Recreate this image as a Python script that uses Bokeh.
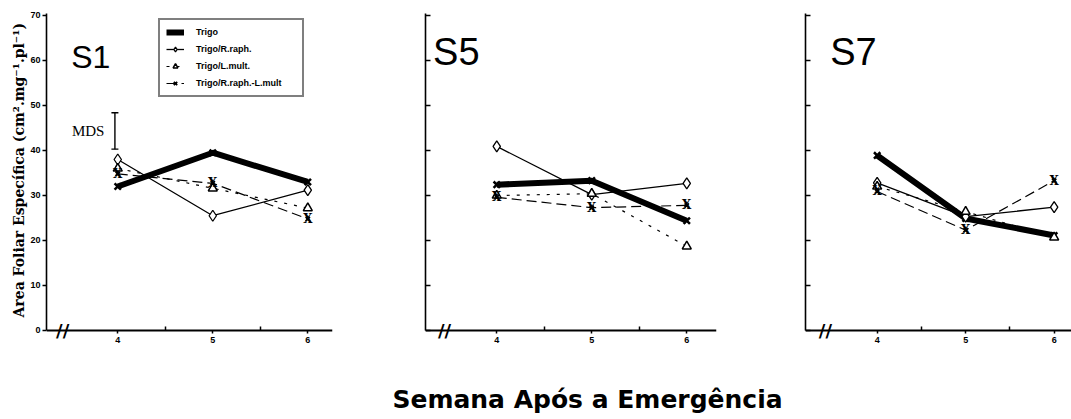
from bokeh.plotting import figure
from bokeh.layouts import column, row
from bokeh.models import (ColumnDataSource, FixedTicker, Legend, LegendItem,
                          Label, Whisker, TeeHead, Title)
from bokeh.core.properties import value
from bokeh.embed import file_html
from bokeh.resources import INLINE

# ---------------- data ----------------
weeks = [4, 5, 6]
x_ticks = [4, 5, 6]
x_minor = [4.5, 5.5]
y_ticks = [0, 10, 20, 30, 40, 50, 60, 70]

series_labels = ["Trigo", "Trigo/R.raph.", "Trigo/L.mult.", "Trigo/R.raph.-L.mult"]
panel_names = ["S1", "S5", "S7"]

trigo_s1 = [32.0, 39.5, 33.0]
rraph_s1 = [38.0, 25.5, 31.2]
lmult_s1 = [36.0, 31.6, 27.2]
rl_s1 = [34.8, 32.7, 24.8]

trigo_s5 = [32.4, 33.3, 24.4]
rraph_s5 = [40.9, 30.2, 32.7]
lmult_s5 = [30.0, 30.4, 18.7]
rl_s5 = [29.6, 27.3, 27.8]

trigo_s7 = [38.9, 24.9, 21.1]
rraph_s7 = [32.8, 25.3, 27.4]
lmult_s7 = [32.0, 26.4, 20.7]
rl_s7 = [30.9, 22.3, 33.3]

mds_x = [3.97]
mds_low = [40.3]
mds_high = [48.4]

x_title = "Semana Após a Emergência"
y_title = "Area Foliar Específica (cm².mg⁻¹.pl⁻¹)"

SANS = "Liberation Sans"
Y_TOP = 70.44


def make_panel(name, tr, rr, lm, rl, width, xr, left, right, first,
               break_x, lab_x, lab_y, lab_size):
    p = figure(width=width, height=370, x_range=xr, y_range=(-4, Y_TOP),
               toolbar_location=None, output_backend="svg", title=None,
               min_border_left=left, min_border_right=right,
               min_border_top=13, min_border_bottom=22)
    p.outline_line_color = None
    p.grid.visible = False
    p.background_fill_color = "white"

    # x axis drawn at y = 0
    xa = p.xaxis[0]
    xa.fixed_location = 0
    xa.ticker = FixedTicker(ticks=x_ticks, minor_ticks=x_minor)
    xa.axis_line_width = 2
    xa.axis_line_color = "black"
    xa.major_tick_in = 0
    xa.major_tick_out = 3
    xa.major_tick_line_width = 1.5
    xa.minor_tick_in = 4
    xa.minor_tick_out = 0
    xa.minor_tick_line_width = 1.5
    xa.major_label_standoff = 4
    xa.major_label_text_font = SANS
    xa.major_label_text_font_style = "bold"
    xa.major_label_text_font_size = "9px"
    xa.major_label_text_color = "black"

    ya = p.yaxis[0]
    ya.bounds = (0, Y_TOP)
    ya.axis_line_width = 1.6
    ya.axis_line_color = "black"
    ya.major_tick_line_width = 1.3
    ya.minor_tick_line_width = 1.3
    if first:
        ya.ticker = FixedTicker(ticks=y_ticks, minor_ticks=[])
        ya.major_tick_in = 0
        ya.major_tick_out = 4
        ya.minor_tick_out = 0
        ya.minor_tick_in = 0
        ya.major_label_standoff = 2
        ya.major_label_text_font = SANS
        ya.major_label_text_font_style = "bold"
        ya.major_label_text_font_size = "9px"
        ya.major_label_text_color = "black"
        p.add_layout(Title(text=y_title, align="left", offset=31,
                           text_font="DejaVu Serif", text_font_style="bold",
                           text_font_size="14px", text_color="black",
                           standoff=2), "left")
    else:
        # unlabeled axis: inward ticks only
        ya.ticker = FixedTicker(ticks=[], minor_ticks=y_ticks)
        ya.minor_tick_in = 5
        ya.minor_tick_out = 0
        ya.major_tick_in = 0
        ya.major_tick_out = 0

    # series lines
    l_rr = p.line(weeks, rr, line_color="black", line_width=1.3)
    l_lm = p.line(weeks, lm, line_color="black", line_width=1.2, line_dash="3 7")
    l_rl = p.line(weeks, rl, line_color="black", line_width=1.2, line_dash="10 5")
    l_tr = p.line(weeks, tr, line_color="black", line_width=6)
    p.scatter(weeks, tr, marker="x", size=9, line_color="black", line_width=2.5)

    m_rr = p.scatter(weeks, rr, marker="diamond", size=11, fill_color="white",
                     line_color="black", line_width=1.3)
    m_lm = p.scatter(weeks, lm, marker="triangle", size=9, fill_color="white",
                     line_color="black", line_width=1.5)
    m_rl = p.scatter(weeks, rl, marker="x", size=6, line_color="black", line_width=1.8)
    p.text(weeks, rl, text=["X"] * len(weeks), text_font=value("DejaVu Serif"),
           text_font_style="bold", text_font_size="12px", text_align="center",
           text_baseline="middle", text_color="black")

    # axis break mark
    p.add_layout(Label(x=break_x, y=0, text="//", text_font="DejaVu Sans",
                       text_font_style="bold", text_font_size="18px",
                       text_align="center", text_baseline="middle",
                       text_color="black"))

    # panel name
    p.add_layout(Label(x=lab_x, y=lab_y, text=name, text_font=SANS,
                       text_font_size=lab_size, text_align="left",
                       text_baseline="middle", text_color="black"))

    if first:
        src = ColumnDataSource(dict(base=mds_x, lower=mds_low, upper=mds_high))
        w = Whisker(source=src, base="base", lower="lower", upper="upper",
                    dimension="height", line_color="black", line_width=1.4,
                    upper_head=TeeHead(size=7, line_width=1.4, line_color="black"),
                    lower_head=TeeHead(size=7, line_width=1.4, line_color="black"))
        p.add_layout(w)
        p.add_layout(Label(x=3.86, y=44.3, text="MDS",
                           text_font="Liberation Serif",
                           text_font_size="15px", text_align="right",
                           text_baseline="middle", text_color="black"))

        items = [
            LegendItem(label=series_labels[0], renderers=[l_tr]),
            LegendItem(label=series_labels[1], renderers=[l_rr, m_rr]),
            LegendItem(label=series_labels[2], renderers=[l_lm, m_lm]),
            LegendItem(label=series_labels[3], renderers=[l_rl, m_rl]),
        ]
        leg = Legend(items=items, location=(112, 251),
                     border_line_color="black", border_line_width=2,
                     padding=6, spacing=5, margin=0,
                     label_height=12, glyph_height=12, glyph_width=18,
                     label_standoff=12, label_width=100,
                     label_text_font=SANS, label_text_font_style="bold",
                     label_text_font_size="9px", label_text_color="black",
                     background_fill_color="white", background_fill_alpha=1)
        p.add_layout(leg, "center")
    return p


p1 = make_panel(panel_names[0], trigo_s1, rraph_s1, lmult_s1, rl_s1,
                415, (3.25, 6.26), 46, 83, True, 3.42, 3.51, 60.7, "32px")
p2 = make_panel(panel_names[1], trigo_s5, rraph_s5, lmult_s5, rl_s5,
                380, (3.25, 6.313), 10, 79, False, 3.45, 3.33, 61.8, "38px")
p3 = make_panel(panel_names[2], trigo_s7, rraph_s7, lmult_s7, rl_s7,
                276, (3.19, 6.196), 10, 0, False, 3.415, 3.47, 61.8, "38px")

plab = figure(width=1071, height=49, x_range=(0, 1071), y_range=(0, 49),
              toolbar_location=None, output_backend="svg", title=None,
              min_border=0, x_axis_location=None, y_axis_location=None)
plab.outline_line_color = None
plab.grid.visible = False
plab.add_layout(Label(x=587, y=20, text=x_title, text_font="DejaVu Sans",
                      text_font_style="bold", text_font_size="25px",
                      text_align="center", text_baseline="middle",
                      text_color="black"))

layout = column(row(p1, p2, p3), plab)
open("out.html", "w").write(file_html(layout, INLINE))
